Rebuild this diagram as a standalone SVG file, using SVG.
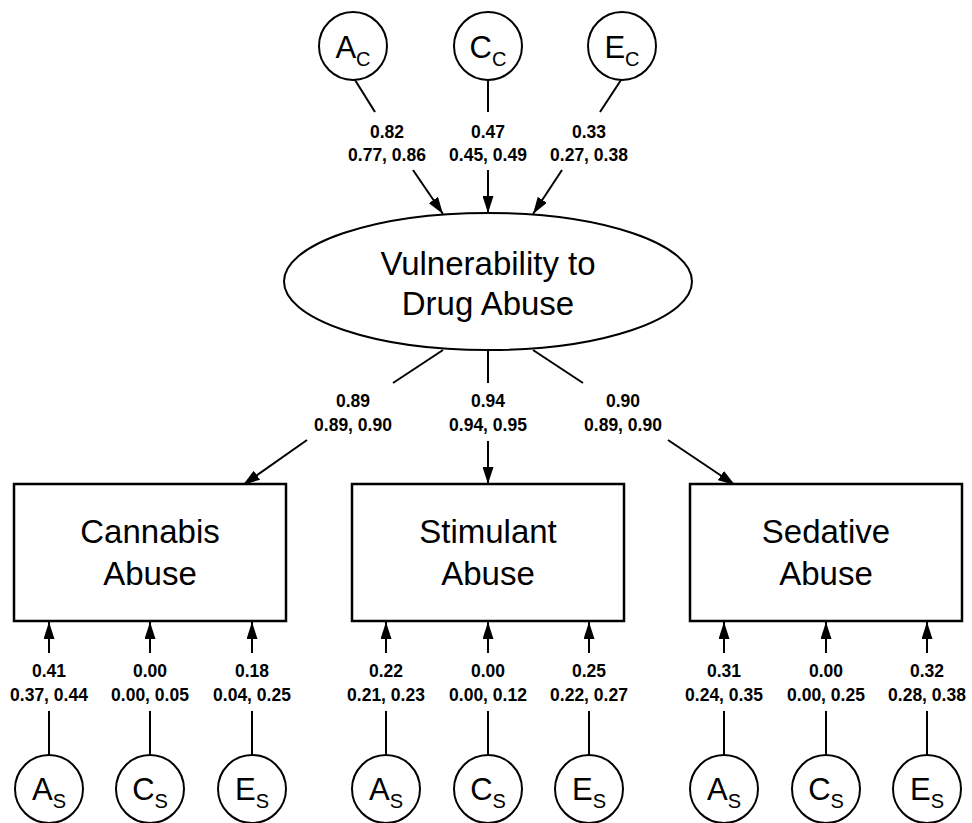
<svg xmlns="http://www.w3.org/2000/svg" width="972" height="823" viewBox="0 0 972 823">
<defs>
<style>
.shape{fill:#fff;stroke:#000;stroke-width:2}
.box{fill:#fff;stroke:#000;stroke-width:2.5}
.ln{stroke:#000;stroke-width:2;fill:none}
.arr{stroke:#000;stroke-width:2;fill:none;marker-end:url(#ah)}
.big{font-family:"Liberation Sans",Arial,sans-serif;font-size:33px;text-anchor:middle;fill:#000}
.cir{font-family:"Liberation Sans",Arial,sans-serif;font-size:31px;text-anchor:middle;fill:#000}
.sub{font-size:20px}
.lab{font-family:"Liberation Sans",Arial,sans-serif;font-size:17.5px;font-weight:bold;text-anchor:middle;fill:#000}
</style>
<marker id="ah" viewBox="0 0 17 11" refX="17" refY="5.5" markerWidth="17" markerHeight="11" markerUnits="userSpaceOnUse" orient="auto">
<path d="M0,0 L17,5.5 L0,11 z" fill="#000"/>
</marker>
</defs>
<rect width="972" height="823" fill="#fff"/>

<g id="connectors">
<line class="ln" x1="355" y1="80" x2="375" y2="112"/>
<line class="arr" x1="413" y1="170" x2="443" y2="214"/>
<line class="ln" x1="488" y1="80" x2="488" y2="112"/>
<line class="arr" x1="488" y1="170" x2="488" y2="213"/>
<line class="ln" x1="621" y1="80" x2="600" y2="112"/>
<line class="arr" x1="562" y1="170" x2="533" y2="214"/>

<line class="ln" x1="443" y1="350" x2="393" y2="383"/>
<line class="arr" x1="307" y1="440" x2="243" y2="485"/>
<line class="ln" x1="488" y1="350" x2="488" y2="383"/>
<line class="arr" x1="488" y1="441" x2="488" y2="484"/>
<line class="ln" x1="533" y1="350" x2="583" y2="383"/>
<line class="arr" x1="668" y1="440" x2="735" y2="485"/>

<g id="bottom-connectors">
<line class="ln" x1="49" y1="755" x2="49" y2="711"/><line class="arr" x1="49" y1="653" x2="49" y2="622"/>
<line class="ln" x1="150" y1="755" x2="150" y2="711"/><line class="arr" x1="150" y1="653" x2="150" y2="622"/>
<line class="ln" x1="252" y1="755" x2="252" y2="711"/><line class="arr" x1="252" y1="653" x2="252" y2="622"/>
<line class="ln" x1="386" y1="755" x2="386" y2="711"/><line class="arr" x1="386" y1="653" x2="386" y2="622"/>
<line class="ln" x1="488" y1="755" x2="488" y2="711"/><line class="arr" x1="488" y1="653" x2="488" y2="622"/>
<line class="ln" x1="589" y1="755" x2="589" y2="711"/><line class="arr" x1="589" y1="653" x2="589" y2="622"/>
<line class="ln" x1="724" y1="755" x2="724" y2="711"/><line class="arr" x1="724" y1="653" x2="724" y2="622"/>
<line class="ln" x1="826" y1="755" x2="826" y2="711"/><line class="arr" x1="826" y1="653" x2="826" y2="622"/>
<line class="ln" x1="927" y1="755" x2="927" y2="711"/><line class="arr" x1="927" y1="653" x2="927" y2="622"/>
</g>

<g id="labels">
<text class="lab" x="387" y="138">0.82</text><text class="lab" x="387" y="161">0.77, 0.86</text>
<text class="lab" x="488" y="138">0.47</text><text class="lab" x="488" y="161">0.45, 0.49</text>
<text class="lab" x="589" y="138">0.33</text><text class="lab" x="589" y="161">0.27, 0.38</text>

<text class="lab" x="353" y="407">0.89</text><text class="lab" x="353" y="431">0.89, 0.90</text>
<text class="lab" x="488" y="407">0.94</text><text class="lab" x="488" y="431">0.94, 0.95</text>
<text class="lab" x="623" y="407">0.90</text><text class="lab" x="623" y="431">0.89, 0.90</text>

<text class="lab" x="49" y="677">0.41</text><text class="lab" x="49" y="701">0.37, 0.44</text>
<text class="lab" x="150" y="677">0.00</text><text class="lab" x="150" y="701">0.00, 0.05</text>
<text class="lab" x="252" y="677">0.18</text><text class="lab" x="252" y="701">0.04, 0.25</text>
<text class="lab" x="386" y="677">0.22</text><text class="lab" x="386" y="701">0.21, 0.23</text>
<text class="lab" x="488" y="677">0.00</text><text class="lab" x="488" y="701">0.00, 0.12</text>
<text class="lab" x="589" y="677">0.25</text><text class="lab" x="589" y="701">0.22, 0.27</text>
<text class="lab" x="724" y="677">0.31</text><text class="lab" x="724" y="701">0.24, 0.35</text>
<text class="lab" x="826" y="677">0.00</text><text class="lab" x="826" y="701">0.00, 0.25</text>
<text class="lab" x="927" y="677">0.32</text><text class="lab" x="927" y="701">0.28, 0.38</text>
</g>
</g>

<g id="Ac"><circle class="shape" cx="353" cy="46" r="34"/><text class="cir" x="353" y="58">A<tspan class="sub" dy="8">C</tspan></text></g>
<g id="Cc"><circle class="shape" cx="488" cy="46" r="34"/><text class="cir" x="488" y="58">C<tspan class="sub" dy="8">C</tspan></text></g>
<g id="Ec"><circle class="shape" cx="622" cy="46" r="34"/><text class="cir" x="622" y="58">E<tspan class="sub" dy="8">C</tspan></text></g>

<g id="vulnerability"><ellipse class="shape" cx="488" cy="281.5" rx="204" ry="68.5"/>
<text class="big" x="488" y="275">Vulnerability to</text>
<text class="big" x="488" y="315">Drug Abuse</text></g>

<g id="cannabis"><rect class="box" x="14" y="484" width="272" height="137"/>
<text class="big" x="150" y="543">Cannabis</text><text class="big" x="150" y="585">Abuse</text></g>
<g id="stimulant"><rect class="box" x="352" y="484" width="272" height="137"/>
<text class="big" x="488" y="543">Stimulant</text><text class="big" x="488" y="585">Abuse</text></g>
<g id="sedative"><rect class="box" x="690" y="484" width="272" height="137"/>
<text class="big" x="826" y="543">Sedative</text><text class="big" x="826" y="585">Abuse</text></g>

<g id="As1"><circle class="shape" cx="49" cy="789" r="34"/><text class="cir" x="49" y="800">A<tspan class="sub" dy="8">S</tspan></text></g>
<g id="Cs1"><circle class="shape" cx="150" cy="789" r="34"/><text class="cir" x="150" y="800">C<tspan class="sub" dy="8">S</tspan></text></g>
<g id="Es1"><circle class="shape" cx="252" cy="789" r="34"/><text class="cir" x="252" y="800">E<tspan class="sub" dy="8">S</tspan></text></g>
<g id="As2"><circle class="shape" cx="386" cy="789" r="34"/><text class="cir" x="386" y="800">A<tspan class="sub" dy="8">S</tspan></text></g>
<g id="Cs2"><circle class="shape" cx="488" cy="789" r="34"/><text class="cir" x="488" y="800">C<tspan class="sub" dy="8">S</tspan></text></g>
<g id="Es2"><circle class="shape" cx="589" cy="789" r="34"/><text class="cir" x="589" y="800">E<tspan class="sub" dy="8">S</tspan></text></g>
<g id="As3"><circle class="shape" cx="724" cy="789" r="34"/><text class="cir" x="724" y="800">A<tspan class="sub" dy="8">S</tspan></text></g>
<g id="Cs3"><circle class="shape" cx="826" cy="789" r="34"/><text class="cir" x="826" y="800">C<tspan class="sub" dy="8">S</tspan></text></g>
<g id="Es3"><circle class="shape" cx="927" cy="789" r="34"/><text class="cir" x="927" y="800">E<tspan class="sub" dy="8">S</tspan></text></g>
</svg>
